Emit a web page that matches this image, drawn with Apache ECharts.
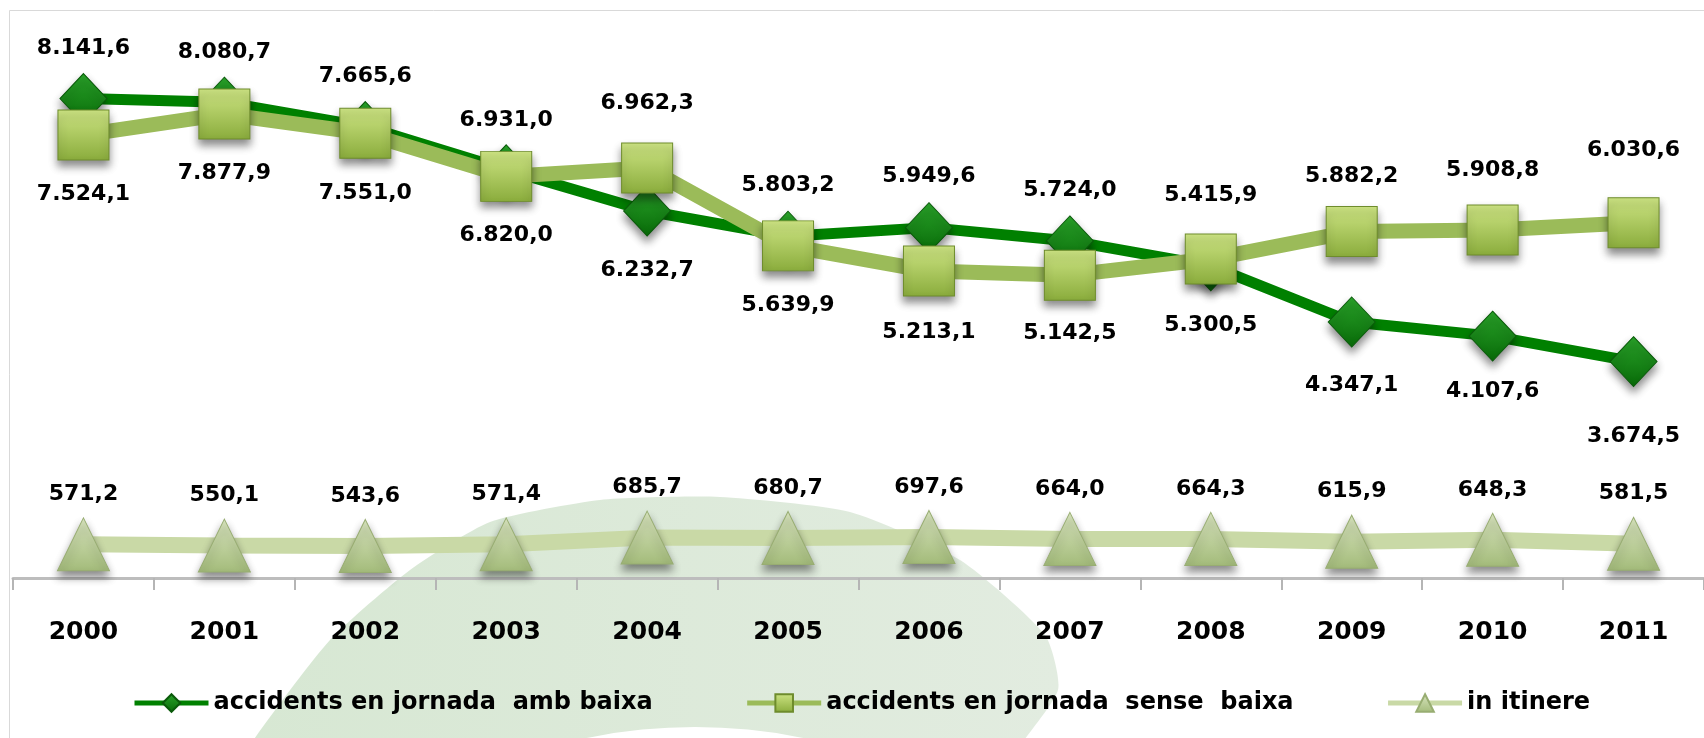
<!DOCTYPE html>
<html>
<head>
<meta charset="utf-8">
<script src="https://cdn.jsdelivr.net/npm/echarts@6/dist/echarts.min.js"></script>
<style>
  html, body { margin: 0; padding: 0; background: #fff; }
  #chart { width: 1704px; height: 738px; }
</style>
</head>
<body>
<div id="chart"></div>
<script>
const years = ['2000', '2001', '2002', '2003', '2004', '2005', '2006', '2007', '2008', '2009', '2010', '2011'];
const ambBaixa = [8141.6, 8080.7, 7665.6, 6931.0, 6232.7, 5803.2, 5949.6, 5724.0, 5300.5, 4347.1, 4107.6, 3674.5];
const senseBaixa = [7524.1, 7877.9, 7551.0, 6820.0, 6962.3, 5639.9, 5213.1, 5142.5, 5415.9, 5882.2, 5908.8, 6030.6];
const inItinere = [571.2, 550.1, 543.6, 571.4, 685.7, 680.7, 697.6, 664.0, 664.3, 615.9, 648.3, 581.5];

// where each value label sits, in px from its marker (negative = above)
const ambBaixaLabelDy = [-50, -50, -50, -50, 59, -51, -51, -51, 59, 63, 55, 75];
const senseBaixaLabelDy = [59, 59, 60, 59, -65, 59, 61, 58, -64, -55, -60, -73];
const inItinereLabelDy = [-50, -50, -50, -50, -50, -50, -50, -50, -50, -50, -50, -50];

const FONT = 'DejaVu Sans';

// 8141.6 -> "8.141,6"
const fmt = v => {
    const [i, d] = v.toFixed(1).split('.');
    return i.replace(/\B(?=(\d{3})+(?!\d))/g, '.') + ',' + d;
};

const withLabels = (vals, dys) => vals.map((v, i) => ({ value: v, label: { offset: [0, dys[i]] } }));

const grad = (top, bottom) => new echarts.graphic.LinearGradient(0, 0, 0, 1, [
    { offset: 0, color: top },
    { offset: 1, color: bottom }
]);

const valueLabel = {
    show: true,
    position: 'inside',
    color: '#000',
    fontFamily: FONT,
    fontWeight: 'bold',
    fontSize: 22,
    formatter: p => fmt(p.value)
};

const shadow = { shadowBlur: 8, shadowColor: 'rgba(0,0,0,0.45)', shadowOffsetY: 6 };

const chart = echarts.init(document.getElementById('chart'));

chart.setOption({
    animation: false,
    backgroundColor: '#fff',
    graphic: [
        // faint logo watermark behind the plot
        {
            type: 'polygon', z: -10, silent: true,
            shape: {
                points: [[200, 830], [250, 745], [330, 640], [410, 570], [490, 522], [600, 500], [720, 497],
                         [850, 512], [960, 560], [1045, 635], [1058, 690], [1010, 760], [980, 830]],
                smooth: 0.2
            },
            style: { fill: new echarts.graphic.LinearGradient(0, 0, 1, 0, [
                { offset: 0, color: '#d6e7d2' },
                { offset: 1, color: '#e2ece0' }
            ]) }
        },
        {
            type: 'circle', z: -9, silent: true,
            shape: { cx: 695, cy: 1267, r: 540 },
            style: { fill: '#fff' }
        },
        {
            type: 'rect', z: -8, silent: true,
            shape: { x: 9.5, y: 10.5, width: 1720, height: 760 },
            style: { fill: 'none', stroke: '#d9d9d9', lineWidth: 1 }
        }
    ],
    grid: { left: 13, top: 48, width: 1694, height: 530 },
    legend: {
        left: 127,
        top: 686,
        itemWidth: 74,
        itemHeight: 22,
        itemGap: 92,
        lineStyle: { width: 5 },
        textStyle: { color: '#000', fontFamily: FONT, fontWeight: 'bold', fontSize: 24 }
    },
    xAxis: {
        type: 'category',
        data: years,
        boundaryGap: true,
        axisLine: { show: true, lineStyle: { color: '#bdbdbd', width: 3 } },
        axisTick: { show: true, alignWithLabel: false, interval: 0, length: 12, lineStyle: { color: '#b5b5b5', width: 2 } },
        axisLabel: { margin: 42, color: '#000', fontFamily: FONT, fontWeight: 'bold', fontSize: 25 }
    },
    yAxis: { type: 'value', min: 0, max: 9000, show: false, splitLine: { show: false } },
    series: [
        {
            name: 'accidents en jornada  amb baixa',
            type: 'line',
            z: 2,
            data: withLabels(ambBaixa, ambBaixaLabelDy),
            symbol: 'diamond',
            symbolSize: [47, 50],
            lineStyle: { color: '#008000', width: 11 },
            itemStyle: { color: grad('#2aa32a', '#086a08'), borderColor: '#0a5a0a', borderWidth: 1, ...shadow },
            label: valueLabel
        },
        {
            name: 'accidents en jornada  sense  baixa',
            type: 'line',
            z: 3,
            data: withLabels(senseBaixa, senseBaixaLabelDy),
            symbol: 'rect',
            symbolSize: [51, 50],
            lineStyle: { color: '#9bbb59', width: 15 },
            itemStyle: { color: grad('#cde483', '#8aac3c'), borderColor: '#6e8c2c', borderWidth: 1, ...shadow },
            label: valueLabel
        },
        {
            name: 'in itinere',
            type: 'line',
            z: 4,
            data: withLabels(inItinere, inItinereLabelDy),
            symbol: 'triangle',
            symbolSize: [52, 53],
            lineStyle: { color: '#c9d9a6', width: 16 },
            itemStyle: { color: grad('#d9e5bf', '#a3bb7a'), borderColor: '#98ad72', borderWidth: 1, ...shadow },
            label: valueLabel
        }
    ]
});
</script>
</body>
</html>
